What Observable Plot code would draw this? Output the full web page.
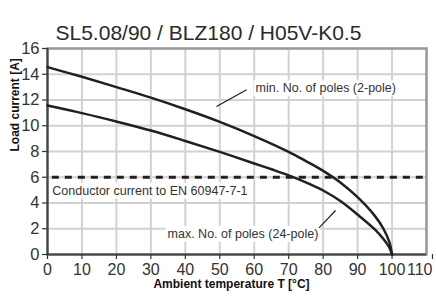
<!DOCTYPE html>
<html>
<head>
<meta charset="utf-8">
<script src="https://cdn.jsdelivr.net/npm/d3@7"></script>
<script src="https://cdn.jsdelivr.net/npm/@observablehq/plot@0.6"></script>
<style>
  html, body { margin: 0; padding: 0; background: #fff; }
  svg { font-family: "Liberation Sans", Arial, sans-serif; }
</style>
</head>
<body>
<script>
const title = "SL5.08/90 / BLZ180 / H05V-K0.5";
const xLabel = "Ambient temperature T [°C]";
const yLabel = "Load current [A]";
const xTicks = [0, 10, 20, 30, 40, 50, 60, 70, 80, 90, 100, 110];
const yTicks = [0, 2, 4, 6, 8, 10, 12, 14, 16];

// min. No. of poles (2-pole)
const temp2 = [0, 10, 20, 30, 40, 50, 60, 70, 75, 80, 85, 90, 95, 97.5, 99.3, 100];
const load2 = [14.55, 13.8, 13.0, 12.18, 11.28, 10.3, 9.2, 7.97, 7.25, 6.5, 5.6, 4.45, 3.0, 2.0, 0.9, 0];
// max. No. of poles (24-pole)
const temp24 = [0, 10, 20, 30, 40, 50, 60, 65, 70, 75, 80, 85, 90, 95, 97.5, 99.3, 100];
const load24 = [11.57, 10.98, 10.33, 9.63, 8.82, 7.97, 7.07, 6.62, 6.15, 5.6, 4.97, 4.15, 3.1, 1.95, 1.2, 0.5, 0];

const conductorLimit = [6];
const labelMin = "min. No. of poles (2-pole)";
const labelMax = "max. No. of poles (24-pole)";
const labelCond = "Conductor current to EN 60947-7-1";

const series2 = temp2.map((t, i) => ({t, a: load2[i]}));
const series24 = temp24.map((t, i) => ({t, a: load24[i]}));

const ink = "#231f20";
const annoFont = 12.5;

const chart = Plot.plot({
  width: 436,
  height: 296,
  marginLeft: 47,
  marginRight: 10,
  marginTop: 48,
  marginBottom: 42,
  x: {domain: [0, 110]},
  y: {domain: [0, 16]},
  marks: [
    Plot.gridX(xTicks, {stroke: "#d2d2d2", strokeOpacity: 1, strokeWidth: 2}),
    Plot.gridY(yTicks, {stroke: "#d2d2d2", strokeOpacity: 1, strokeWidth: 2}),
    Plot.frame({stroke: "#9a9a9a", strokeWidth: 2.5}),
    Plot.ruleX([0], {stroke: "#444", strokeWidth: 2}),
    Plot.ruleY([0], {stroke: "#444", strokeWidth: 2}),
    Plot.axisX(xTicks.slice(0, -1), {tickSize: 5, tickPadding: 4, fontSize: 16, color: "#333", label: null, strokeWidth: 1.2}),
    Plot.axisX(xTicks.slice(-1), {tickSize: 5, tickPadding: 4, fontSize: 16, color: "#333", label: null, strokeWidth: 1.2, textAnchor: "end", dx: 6}),
    Plot.axisY(yTicks, {tickSize: 5, tickPadding: 3, fontSize: 16.5, color: "#333", label: null, strokeWidth: 1.2}),
    Plot.ruleY(conductorLimit, {x1: 1.4, x2: 110, stroke: ink, strokeWidth: 3, strokeDasharray: "7,6"}),
    Plot.line(series2, {x: "t", y: "a", stroke: ink, strokeWidth: 2.5, curve: "catmull-rom"}),
    Plot.line(series24, {x: "t", y: "a", stroke: ink, strokeWidth: 2.5, curve: "catmull-rom"}),
    // annotations
    Plot.text([labelCond], {x: 1.4, y: 4.97, text: d => d, textAnchor: "start", fontSize: annoFont, fill: "#333", className: "boxed"}),
    Plot.text([labelMin], {x: 60.4, y: 12.9, text: d => d, textAnchor: "start", fontSize: annoFont, fill: "#333", className: "boxed"}),
    Plot.text([labelMax], {x: 78.6, y: 1.6, text: d => d, textAnchor: "end", fontSize: annoFont, fill: "#333", className: "boxed"}),
    Plot.link([labelMin], {x1: 49.05, y1: 11.5, x2: 57.8, y2: 12.8, stroke: ink, strokeWidth: 1.2}),
    Plot.link([labelMax], {x1: 83.6, y1: 3.42, x2: 78.8, y2: 2.07, stroke: ink, strokeWidth: 1.2}),
    // title and axis labels
    Plot.text([title], {frameAnchor: "top-left", dx: 8, dy: -23.5, text: d => d, textAnchor: "start", fontSize: 21, fill: "#2a2a2a"}),
    Plot.text([yLabel], {frameAnchor: "left", dx: -32, rotate: -90, text: d => d, fontSize: 12, fontWeight: "bold", fill: "#111"}),
    Plot.text([xLabel], {frameAnchor: "bottom", dx: -5.5, dy: 33.5, text: d => d, fontSize: 12, fontWeight: "bold", fill: "#111"})
  ]
});

document.body.append(chart);

// white boxes behind annotation labels
chart.querySelectorAll(".boxed text").forEach(t => {
  const b = t.getBBox();
  const r = document.createElementNS("http://www.w3.org/2000/svg", "rect");
  r.setAttribute("x", b.x - 2);
  r.setAttribute("y", b.y - 1);
  r.setAttribute("width", b.width + 4);
  r.setAttribute("height", b.height + 2);
  r.setAttribute("fill", "white");
  const tr = t.getAttribute("transform");
  if (tr) r.setAttribute("transform", tr);
  t.parentNode.insertBefore(r, t);
});
</script>
</body>
</html>
